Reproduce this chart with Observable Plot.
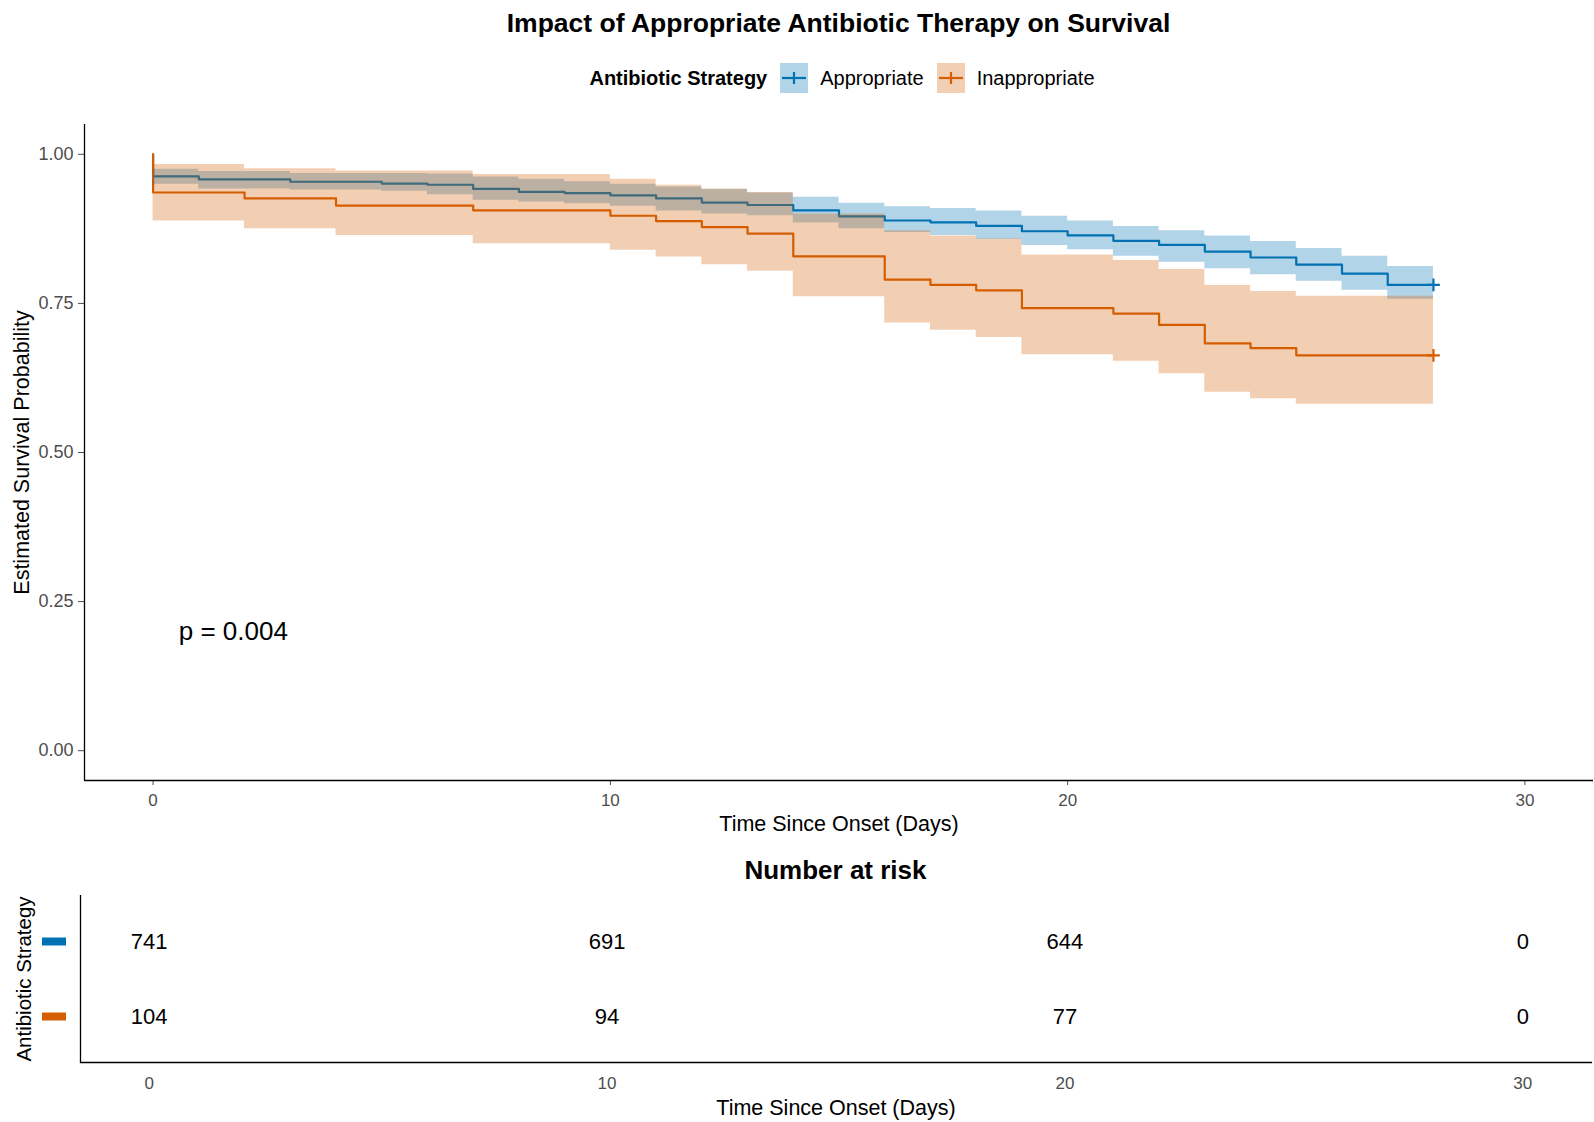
<!DOCTYPE html>
<html>
<head>
<meta charset="utf-8">
<script src="https://cdn.jsdelivr.net/npm/d3@7"></script>
<script src="https://cdn.jsdelivr.net/npm/@observablehq/plot@0.6"></script>
<style>
  body { margin: 0; background: #fff; font-family: "Liberation Sans", Arial, sans-serif; }
  #wrap { position: relative; width: 1594px; height: 1122px; overflow: hidden; background: #fff; }
  .abs { position: absolute; }
  #title { left: 84px; width: 1509px; top: 8px; text-align: center; font-weight: bold; font-size: 26.5px; line-height: 30px; color: #000; }
  #legend { left: 94px; width: 1509px; top: 63px; height: 30px; display: flex; justify-content: center; align-items: center; font-size: 20px; color: #000; }
  #legend .lt { font-weight: bold; margin-right: 13px; }
  #legend svg { display: block; margin-right: 12px; }
  #legend .lab { margin-right: 13px; }
  #risktitle { text-align: center; font-weight: bold; font-size: 26px; line-height: 30px; color: #000; }
  #p1 { left: 0; top: 100px; }
  #p2 { left: 0; top: 880px; }
</style>
</head>
<body>
<div id="wrap">
  <div id="title" class="abs"></div>
  <div id="legend" class="abs"></div>
  <div id="p1" class="abs"></div>
  <div id="risktitle" class="abs" style="left:80px;width:1511px;top:855px;"></div>
  <div id="p2" class="abs"></div>
</div>
<script>
// ---------- data ----------
const titleText = "Impact of Appropriate Antibiotic Therapy on Survival";
const legendTitle = "Antibiotic Strategy";
const strategies = ["Appropriate", "Inappropriate"];
const colors = ["#0072B2", "#D55E00"];
const xLabel = "Time Since Onset (Days)";
const yLabel = "Estimated Survival Probability";
const riskTitle = "Number at risk";
const pLabel = "p = 0.004";
const pX = 0.56;
const pY = 0.2;

const xTicks = [0, 10, 20, 30];
const yTicks = [0, 0.25, 0.5, 0.75, 1];
const xDomain = [-1.5, 31.5];
const yDomain = [-0.05, 1.05];

// Appropriate (KM step curve with 95% CI)
const apprTime  = [0, 0, 1, 3, 5, 6, 7, 8, 9, 10, 11, 12, 13, 14, 15, 16, 17, 18, 19, 20, 21, 22, 23, 24, 25, 26, 27, 28];
const apprSurv  = [1, 0.963, 0.958, 0.954, 0.951, 0.949, 0.942, 0.937, 0.935, 0.931, 0.926, 0.919, 0.915, 0.906, 0.896, 0.889, 0.886, 0.880, 0.871, 0.864, 0.855, 0.848, 0.837, 0.827, 0.815, 0.800, 0.781, 0.781];
const apprUpper = [1, 0.975, 0.971, 0.968, 0.968, 0.967, 0.962, 0.958, 0.954, 0.950, 0.945, 0.941, 0.935, 0.928, 0.918, 0.912, 0.909, 0.905, 0.896, 0.888, 0.879, 0.872, 0.863, 0.854, 0.842, 0.829, 0.812, 0.812];
const apprLower = [1, 0.950, 0.942, 0.940, 0.938, 0.932, 0.923, 0.920, 0.917, 0.913, 0.905, 0.900, 0.897, 0.885, 0.875, 0.869, 0.864, 0.857, 0.847, 0.840, 0.829, 0.819, 0.808, 0.798, 0.787, 0.772, 0.757, 0.757];

// Inappropriate
const inapTime  = [0, 0, 2, 4, 7, 10, 11, 12, 13, 14, 16, 17, 18, 19, 21, 22, 23, 24, 25, 28];
const inapSurv  = [1, 0.936, 0.926, 0.914, 0.906, 0.897, 0.888, 0.878, 0.867, 0.829, 0.790, 0.781, 0.772, 0.742, 0.733, 0.714, 0.683, 0.675, 0.663, 0.663];
const inapUpper = [1, 0.983, 0.976, 0.972, 0.966, 0.958, 0.948, 0.942, 0.936, 0.900, 0.872, 0.863, 0.858, 0.831, 0.822, 0.807, 0.780, 0.770, 0.762, 0.762];
const inapLower = [1, 0.888, 0.875, 0.864, 0.850, 0.839, 0.828, 0.815, 0.804, 0.761, 0.717, 0.705, 0.693, 0.664, 0.653, 0.632, 0.601, 0.590, 0.581, 0.581];

// Number at risk
const riskTimes = [0, 10, 20, 30];
const apprRisk = [741, 691, 644, 0];
const inapRisk = [104, 94, 77, 0];

// ---------- build tables ----------
function curve(strategy, t, s, u, l) {
  return t.map((time, i) => ({strategy, time, surv: s[i], upper: u[i], lower: l[i]}));
}
const km = [
  ...curve(strategies[0], apprTime, apprSurv, apprUpper, apprLower),
  ...curve(strategies[1], inapTime, inapSurv, inapUpper, inapLower)
];
const censor = strategies.map(st => {
  const pts = km.filter(d => d.strategy === st);
  return pts[pts.length - 1];
});
const risk = [
  ...riskTimes.map((time, i) => ({strategy: strategies[0], time, n: apprRisk[i]})),
  ...riskTimes.map((time, i) => ({strategy: strategies[1], time, n: inapRisk[i]}))
];
const colorScale = {domain: strategies, range: colors};
const font = "'Liberation Sans', Arial, sans-serif";

// ---------- title & legend ----------
document.getElementById("title").textContent = titleText;
document.getElementById("risktitle").textContent = riskTitle;
const leg = document.getElementById("legend");
const lt = document.createElement("span");
lt.className = "lt"; lt.textContent = legendTitle; leg.appendChild(lt);
strategies.forEach((st, i) => {
  const ns = "http://www.w3.org/2000/svg";
  const svg = document.createElementNS(ns, "svg");
  svg.setAttribute("width", 28); svg.setAttribute("height", 30);
  const r = document.createElementNS(ns, "rect");
  r.setAttribute("width", 28); r.setAttribute("height", 30);
  r.setAttribute("fill", colors[i]); r.setAttribute("fill-opacity", 0.3);
  svg.appendChild(r);
  const h = document.createElementNS(ns, "line");
  h.setAttribute("x1", 2); h.setAttribute("x2", 26); h.setAttribute("y1", 15); h.setAttribute("y2", 15);
  h.setAttribute("stroke", colors[i]); h.setAttribute("stroke-width", 2.2);
  svg.appendChild(h);
  const v = document.createElementNS(ns, "line");
  v.setAttribute("x1", 14); v.setAttribute("x2", 14); v.setAttribute("y1", 9); v.setAttribute("y2", 21);
  v.setAttribute("stroke", colors[i]); v.setAttribute("stroke-width", 2.2);
  svg.appendChild(v);
  leg.appendChild(svg);
  const lab = document.createElement("span");
  lab.className = "lab"; lab.textContent = st; leg.appendChild(lab);
});

// ---------- survival plot ----------
const p1 = Plot.plot({
  width: 1594,
  height: 740,
  marginLeft: 84,
  marginRight: 1,
  marginTop: 24,
  marginBottom: 60,
  style: {fontFamily: font, color: "#4D4D4D", background: "#fff", overflow: "visible"},
  x: {domain: xDomain},
  y: {domain: yDomain},
  color: colorScale,
  marks: [
    Plot.line(km, {x: "time", y: "surv", z: "strategy", stroke: "strategy", strokeWidth: 2.2, curve: "step-after"}),
    Plot.areaY(km, {x: "time", y1: "lower", y2: "upper", z: "strategy", fill: "strategy", fillOpacity: 0.3, curve: "step-after"}),
    Plot.dot(censor, {x: "time", y: "surv", stroke: "strategy", symbol: "plus", r: 4.2, strokeWidth: 2.2}),
    Plot.text([pLabel], {x: pX, y: pY, text: d => d, textAnchor: "start", fontSize: 26, fill: "#000"}),
    Plot.axisX({ticks: xTicks, tickSize: 5, tickPadding: 8, fontSize: 17, label: null, tickFormat: d3.format("d")}),
    Plot.axisY({ticks: yTicks, tickSize: 6, tickPadding: 5, fontSize: 18, label: null, tickFormat: d3.format(".2f")}),
    Plot.ruleX([xDomain[0]], {stroke: "#000", strokeWidth: 1.3}),
    Plot.ruleY([yDomain[0]], {stroke: "#000", strokeWidth: 1.3}),
    Plot.text([xLabel], {frameAnchor: "bottom", dy: 44, lineAnchor: "middle", text: d => d, fontSize: 21.5, fill: "#000"}),
    Plot.text([yLabel], {frameAnchor: "left", dx: -62, rotate: -90, textAnchor: "middle", lineAnchor: "middle", text: d => d, fontSize: 21.5, fill: "#000"})
  ]
});
document.getElementById("p1").appendChild(p1);

// ---------- risk table ----------
const p2 = Plot.plot({
  width: 1594,
  height: 242,
  marginLeft: 80,
  marginRight: 3,
  marginTop: 15,
  marginBottom: 60,
  style: {fontFamily: font, color: "#4D4D4D", background: "#fff", overflow: "visible"},
  x: {domain: xDomain},
  y: {type: "point", domain: strategies, padding: 0.6, axis: null},
  color: colorScale,
  marks: [
    Plot.text(risk, {x: "time", y: "strategy", text: "n", fontSize: 22, fill: "#000"}),
    Plot.axisX({ticks: xTicks, tickSize: 0, tickPadding: 14, fontSize: 17, label: null, tickFormat: d3.format("d")}),
    Plot.ruleY(strategies, {y: d => d, x1: xDomain[0], x2: xDomain[0], insetLeft: -38, insetRight: 14, stroke: d => d, strokeWidth: 8}),
    Plot.ruleX([xDomain[0]], {stroke: "#000", strokeWidth: 1.3}),
    Plot.frame({anchor: "bottom", stroke: "#000", strokeWidth: 1.3}),
    Plot.text([xLabel], {frameAnchor: "bottom", dy: 46, lineAnchor: "middle", text: d => d, fontSize: 21.5, fill: "#000"}),
    Plot.text([legendTitle], {frameAnchor: "left", dx: -56, rotate: -90, textAnchor: "middle", lineAnchor: "middle", text: d => d, fontSize: 20.5, fill: "#000"})
  ]
});
document.getElementById("p2").appendChild(p2);
</script>
</body>
</html>
